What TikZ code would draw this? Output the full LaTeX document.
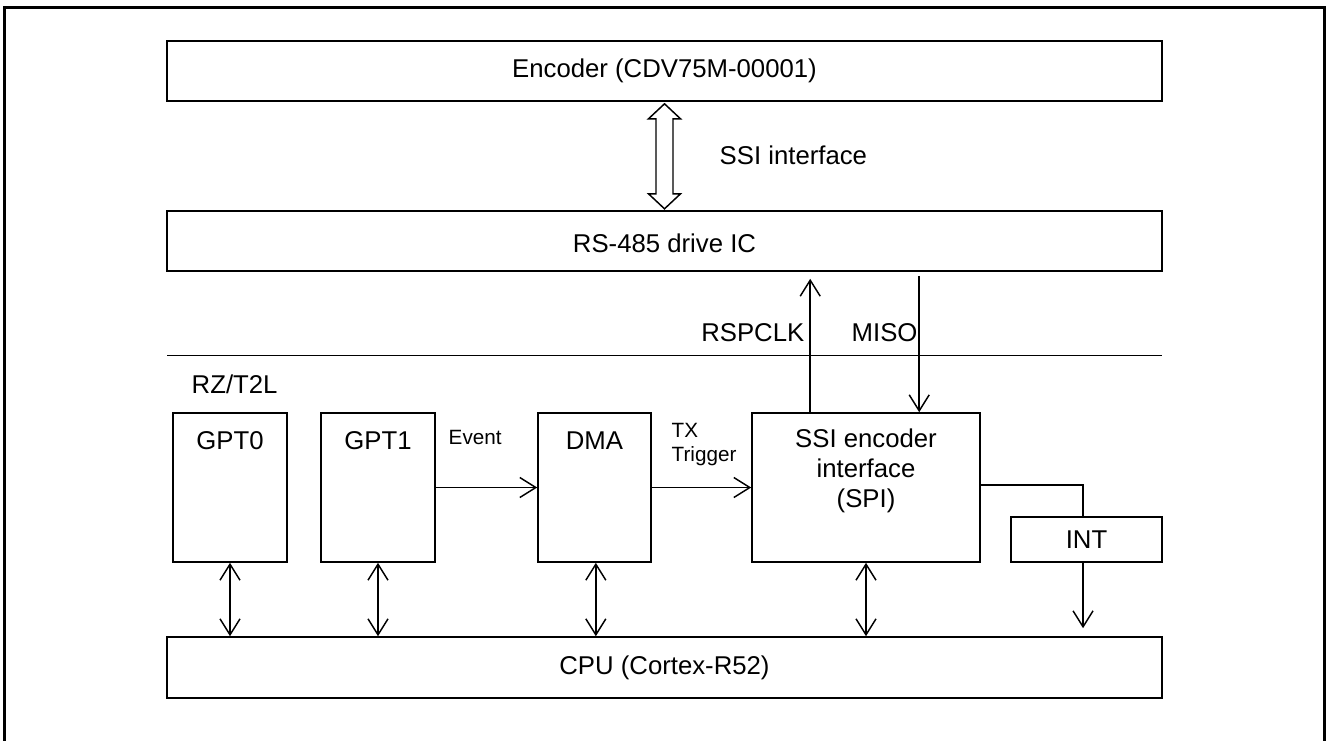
\documentclass[tikz,border=0pt]{standalone}
\usepackage{fontspec}
\setmainfont{Liberation Sans}
\usetikzlibrary{arrows.meta,fit}
\begin{document}
\begin{tikzpicture}[x=0.75pt,y=-0.75pt,
  box/.style={draw, line width=1.2pt, inner sep=0pt},
  lbl/.style={font=\fontsize{19.3}{22.5}\selectfont},
  small/.style={font=\fontsize{15.5}{18}\selectfont},
  conn/.style={line width=1.1pt},
  arr/.style={conn, -{Straight Barb[length=12pt,width=15pt,line width=1.1pt]}},
  darr/.style={conn, {Straight Barb[length=12pt,width=15pt,line width=1.1pt]}-{Straight Barb[length=12pt,width=15pt,line width=1.1pt]}},
  toplbl/.style={label={[lbl, anchor=center, yshift=-21pt]north:#1}},
  ctrlbl/.style={label={[lbl, anchor=center]center:#1}}
]
\useasboundingbox (0,0) rectangle (1326,740);
% outer frame
\draw[line width=2pt] (4.7,750) -- (4.7,7.3) -- (1324.6,7.3) -- (1324.6,750);

\node[box, fit={(167,41)(1162,101)}, ctrlbl={Encoder (CDV75M-00001)}] (enc) {};
\node[box, fit={(167,211)(1162,271)}, label={[lbl, anchor=center, yshift=-1.5pt]center:RS-485 drive IC}] (rs) {};
\node[box, fit={(173,413)(287,562)}, toplbl=GPT0] (gpt0) {};
\node[box, fit={(321,413)(435,562)}, toplbl=GPT1] (gpt1) {};
\node[box, fit={(538,413)(651,562)}, toplbl=DMA] (dma) {};
\node[box, fit={(752,413)(980,562)},
  label={[lbl, align=center, anchor=center, yshift=-43.9pt]north:SSI encoder\\interface\\(SPI)}] (ssi) {};
\node[box, fit={(1011,517)(1162,562)}, ctrlbl=INT] (int) {};
\node[box, fit={(167,637)(1162,698)}, ctrlbl={CPU (Cortex-R52)}] (cpu) {};

% hollow double arrow (SSI interface)
\draw[line width=1.1pt] ([yshift=-1.5pt]enc.south) -- ++(16,15) -- ++(-7.5,0) -- ++(0,75) -- ++(7.5,0)
  -- ++(-16,15) -- ++(-16,-15) -- ++(7.5,0) -- ++(0,-75) -- ++(-7.5,0) -- cycle;
\node[lbl, anchor=west] (ssilbl) at (715,155) {SSI interface};

% separator
\coordinate (sepL) at (167,355.5);
\coordinate (sepR) at (1162,355.5);
\draw[conn] (sepL) -- (sepR);
\node[lbl, anchor=west] (rzt) at (187,384) {RZ/T2L};

% RSPCLK / MISO
\coordinate (ckS) at ([xshift=44.25pt]ssi.north west);
\draw[arr, shorten >=5.25pt] (ckS) -- (ckS |- rs.south);
\coordinate (miS) at ([xshift=126pt]ssi.north west);
\draw[arr, shorten <=3pt] (miS |- rs.south) -- (miS);
\node[lbl, anchor=east] (cklbl) at (809,333) {RSPCLK};
\node[lbl, anchor=west] (milbl) at (847,333) {MISO};

% Event, TX Trigger
\draw[arr] (gpt1.east) -- (dma.west);
\node[small, anchor=west] (evlbl) at (444,437) {Event};
\draw[arr] (dma.east) -- (ssi.west);
\node[small, anchor=west, align=left] (txlbl) at (667,445) {TX\\Trigger};

% SSI -> INT -> CPU
\coordinate (iT) at ([xshift=-2.6pt]int.north);
\coordinate (iB) at ([xshift=-2.6pt]int.south);
\draw[conn] ([yshift=1.9pt]ssi.east) -| (iT);
\draw[arr, shorten >=6pt] (iB) -- (iB |- cpu.north);

% bus arrows
\draw[darr] (gpt0.south) -- (gpt0.south |- cpu.north);
\draw[darr] (gpt1.south) -- (gpt1.south |- cpu.north);
\draw[darr] ([xshift=1pt]dma.south) -- ([xshift=1pt]dma.south |- cpu.north);
\draw[darr] (ssi.south) -- (ssi.south |- cpu.north);
\end{tikzpicture}
\end{document}
